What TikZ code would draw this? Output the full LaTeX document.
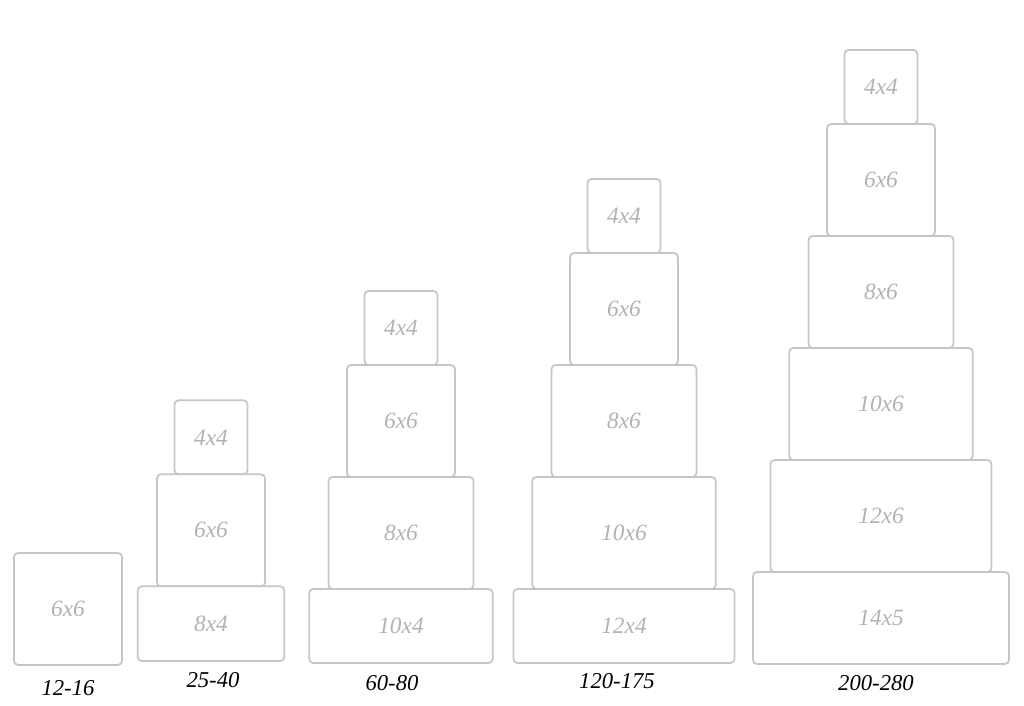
\documentclass[tikz,border=0pt]{standalone}
\usepackage{fontspec}
\setmainfont{Liberation Serif}
\usetikzlibrary{positioning}

\begin{document}
\begin{tikzpicture}[x=0.75pt,y=-0.75pt,
  tier/.style={draw=gray!45,line width=1.3pt,rounded corners=3pt,inner sep=0pt,outer sep=0pt,text=gray!60,font=\fontsize{17.5}{20}\selectfont\itshape,anchor=south},
  t4x4/.style={minimum width=54.75pt,minimum height=55.5pt},
  t6x6/.style={minimum width=81pt,minimum height=84pt},
  t8x4/.style={minimum width=110pt,minimum height=56pt},
  t8x6/.style={minimum width=108.75pt,minimum height=84pt},
  t10x4/.style={minimum width=137.5pt,minimum height=55.5pt},
  t10x6/.style={minimum width=137.5pt,minimum height=84pt},
  t12x4/.style={minimum width=165.75pt,minimum height=55.5pt},
  t12x6/.style={minimum width=165.75pt,minimum height=84pt},
  t14x5/.style={minimum width=192pt,minimum height=69pt},
  serves/.style={text=black,font=\fontsize{17}{20}\selectfont\itshape}]
  \useasboundingbox (0,0) rectangle (1024,706);

  \node[tier,t6x6] (a1) at (68,665) {6x6};
  \node[serves] (na) at (68,688) {12-16};

  \node[tier,t8x4] (b1) at (211,661) {8x4};
  \node[tier,t6x6,above=0pt of b1] (b2) {6x6};
  \node[tier,t4x4,above=0pt of b2] (b3) {4x4};
  \node[serves] (nb) at (213,680) {25-40};

  \node[tier,t10x4] (c1) at (401,663) {10x4};
  \node[tier,t8x6,above=0pt of c1] (c2) {8x6};
  \node[tier,t6x6,above=0pt of c2] (c3) {6x6};
  \node[tier,t4x4,above=0pt of c3] (c4) {4x4};
  \node[serves] (nc) at (392,683) {60-80};

  \node[tier,t12x4] (d1) at (624,663) {12x4};
  \node[tier,t10x6,above=0pt of d1] (d2) {10x6};
  \node[tier,t8x6,above=0pt of d2] (d3) {8x6};
  \node[tier,t6x6,above=0pt of d3] (d4) {6x6};
  \node[tier,t4x4,above=0pt of d4] (d5) {4x4};
  \node[serves] (nd) at (617,681) {120-175};

  \node[tier,t14x5] (e1) at (881,664) {14x5};
  \node[tier,t12x6,above=0pt of e1] (e2) {12x6};
  \node[tier,t10x6,above=0pt of e2] (e3) {10x6};
  \node[tier,t8x6,above=0pt of e3] (e4) {8x6};
  \node[tier,t6x6,above=0pt of e4] (e5) {6x6};
  \node[tier,t4x4,above=0pt of e5] (e6) {4x4};
  \node[serves] (ne) at (876,683) {200-280};
\end{tikzpicture}
\end{document}
